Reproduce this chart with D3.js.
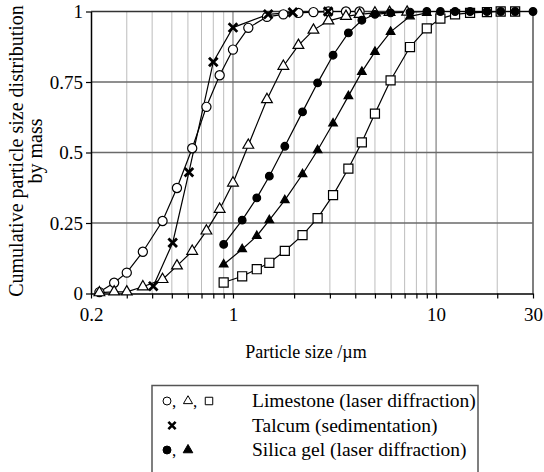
<!DOCTYPE html>
<html>
<head>
<meta charset="utf-8">
<script src="https://cdn.jsdelivr.net/npm/d3@7"></script>
<style>
  body { margin: 0; background: #fff; }
  svg { display: block; }
  text { font-family: "Liberation Serif", "Times New Roman", Times, serif; fill: #000; }
</style>
</head>
<body>
<div id="chart"></div>
<script>
// limestone, laser diffraction (three samples share one size grid)
const limeX = [0.22, 0.26, 0.30, 0.36, 0.45, 0.53, 0.63, 0.74, 0.86, 1.0, 1.19, 1.47, 1.77, 2.1, 2.49, 2.95, 3.6, 4.2, 5.0, 5.9, 7.2];
const limeCircleY = [0.005, 0.038, 0.074, 0.148, 0.257, 0.374, 0.515, 0.662, 0.774, 0.865, 0.942, 0.981, 0.99, 0.995, 0.998, 1, 1, 1];
const limeTriangleY = [0.003, 0.006, 0.006, 0.024, 0.05, 0.098, 0.15, 0.222, 0.299, 0.392, 0.526, 0.688, 0.806, 0.88, 0.934, 0.967, 0.983, 0.99, 0.995, 0.997, 0.998];

// coarser laser diffraction grid
const gridX = [0.90, 1.11, 1.31, 1.51, 1.80, 2.20, 2.61, 3.11, 3.70, 4.31, 5.0, 5.97, 7.44, 9.0, 10.5, 12.4, 14.7, 17.8, 20.8, 24.5, 30];
const limeSquareY = [0.039, 0.061, 0.086, 0.109, 0.151, 0.207, 0.267, 0.349, 0.443, 0.536, 0.638, 0.756, 0.874, 0.94, 0.975, 0.99, 0.995, 0.998, 1, 1];
const silicaCircleY = [0.174, 0.26, 0.339, 0.416, 0.522, 0.644, 0.747, 0.845, 0.924, 0.969, 0.99, 0.995, 0.998, 1, 1, 1, 1, 1, 1, 1, 1];
const silicaTriangleY = [0.103, 0.157, 0.204, 0.26, 0.331, 0.423, 0.508, 0.603, 0.70, 0.786, 0.857, 0.928, 0.983, 0.995];

// talcum, sedimentation
const talcumX = [0.405, 0.505, 0.607, 0.80, 1.0, 1.49, 1.97, 2.94];
const talcumY = [0.026, 0.18, 0.43, 0.821, 0.943, 0.99, 0.997, 1];

const xTickLabels = [0.2, 1, 10, 30];
const xMinor = [0.3, 0.4, 0.5, 0.6, 0.7, 0.8, 0.9, 2, 3, 4, 5, 6, 7, 8, 9, 20];
const yTicks = [0, 0.25, 0.5, 0.75, 1];

const width = 544;
const height = 472;
const margin = { top: 11.5, right: 11, bottom: 178.5, left: 91 };
const serif = "'Liberation Serif', 'Times New Roman', Times, serif";

const svg = d3.select("#chart").append("svg")
  .attr("width", width)
  .attr("height", height);

const x = d3.scaleLog()
  .domain([0.2, 30])
  .range([margin.left, width - margin.right]);

const y = d3.scaleLinear()
  .domain([0, 1])
  .range([height - margin.bottom, margin.top]);

// grid
svg.append("g")
  .selectAll("line")
  .data(xMinor)
  .join("line")
  .attr("x1", d => x(d)).attr("x2", d => x(d))
  .attr("y1", y(0)).attr("y2", y(1))
  .attr("stroke", "#bdbdbd")
  .attr("stroke-width", 1);

svg.append("g")
  .selectAll("line")
  .data([1, 10])
  .join("line")
  .attr("x1", d => x(d)).attr("x2", d => x(d))
  .attr("y1", y(0)).attr("y2", y(1))
  .attr("stroke", "#8a8a8a")
  .attr("stroke-width", 1.3);

svg.append("line")
  .attr("x1", x(30)).attr("x2", x(30))
  .attr("y1", y(0)).attr("y2", y(1))
  .attr("stroke", "#555")
  .attr("stroke-width", 1.5);

svg.append("g")
  .selectAll("line")
  .data([0.25, 0.5, 0.75])
  .join("line")
  .attr("x1", x(0.2)).attr("x2", x(30))
  .attr("y1", d => y(d)).attr("y2", d => y(d))
  .attr("stroke", "#6a6a6a")
  .attr("stroke-width", 1.3);

svg.append("line")
  .attr("x1", x(0.2)).attr("x2", x(30))
  .attr("y1", y(1)).attr("y2", y(1))
  .attr("stroke", "#333")
  .attr("stroke-width", 1.5);

// axes
const xAxis = svg.append("g")
  .attr("transform", `translate(0,${y(0)})`)
  .call(d3.axisBottom(x)
    .tickValues(xTickLabels.concat(xMinor).sort((a, b) => a - b))
    .tickFormat(d => xTickLabels.includes(d) ? String(d) : "")
    .tickSize(5)
    .tickSizeOuter(0)
    .tickPadding(9));

const yAxis = svg.append("g")
  .attr("transform", `translate(${x(0.2)},0)`)
  .call(d3.axisLeft(y)
    .tickValues(yTicks)
    .tickFormat(d => String(d))
    .tickSize(5)
    .tickSizeOuter(0)
    .tickPadding(3));

[xAxis, yAxis].forEach(g => {
  g.attr("font-family", null);
  g.select(".domain").attr("stroke", "#000").attr("stroke-width", 1.5);
  g.selectAll(".tick line").attr("stroke", "#000").attr("stroke-width", 1.2);
  g.selectAll(".tick text")
    .style("font-family", serif)
    .style("font-size", "19px")
    .attr("fill", "#000");
});

// axis titles
svg.append("text")
  .attr("x", 306)
  .attr("y", 358)
  .attr("text-anchor", "middle")
  .style("font-family", serif)
  .style("font-size", "18px")
  .text("Particle size /\u00b5m");

svg.append("text")
  .attr("transform", "translate(23,151) rotate(-90)")
  .attr("text-anchor", "middle")
  .style("font-family", serif)
  .style("font-size", "20px")
  .text("Cumulative particle size distribution");

svg.append("text")
  .attr("transform", "translate(42,151) rotate(-90)")
  .attr("text-anchor", "middle")
  .style("font-family", serif)
  .style("font-size", "20px")
  .text("by mass");

// series
const zip = (xs, ys) => ys.map((v, i) => [xs[i], v]);

const series = [
  { pts: zip(limeX, limeCircleY), shape: d3.symbolCircle, size: 66, fill: "#fff" },
  { pts: zip(limeX, limeTriangleY), shape: d3.symbolTriangle, size: 50, fill: "#fff" },
  { pts: zip(gridX, limeSquareY), shape: d3.symbolSquare, size: 82, fill: "#fff" },
  { pts: zip(talcumX, talcumY), shape: d3.symbolTimes, size: 50, fill: "none", sw: 2.8 },
  { pts: zip(gridX, silicaTriangleY), shape: d3.symbolTriangle, size: 32, fill: "#000" },
  { pts: zip(gridX, silicaCircleY), shape: d3.symbolCircle, size: 46, fill: "#000" }
];

const line = d3.line()
  .x(d => x(d[0]))
  .y(d => y(d[1]));

svg.append("g")
  .selectAll("path")
  .data(series)
  .join("path")
  .attr("fill", "none")
  .attr("stroke", "#000")
  .attr("stroke-width", 1.2)
  .attr("d", d => line(d.pts));

series.forEach(s => {
  svg.append("g")
    .selectAll("path")
    .data(s.pts)
    .join("path")
    .attr("transform", d => `translate(${x(d[0])},${y(d[1])})`)
    .attr("d", d3.symbol().type(s.shape).size(s.size))
    .attr("fill", s.fill)
    .attr("stroke", "#000")
    .attr("stroke-width", s.sw || 1.2);
});

// legend
const legend = svg.append("g");

legend.append("rect")
  .attr("x", 152)
  .attr("y", 385.5)
  .attr("width", 326)
  .attr("height", 110)
  .attr("fill", "none")
  .attr("stroke", "#555")
  .attr("stroke-width", 1.5);

const legendRows = [
  { label: "Limestone (laser diffraction)", marks: [
    { shape: d3.symbolCircle, size: 50, fill: "#fff" },
    { shape: d3.symbolTriangle, size: 36, fill: "#fff" },
    { shape: d3.symbolSquare, size: 56, fill: "#fff" }] },
  { label: "Talcum (sedimentation)", marks: [
    { shape: d3.symbolTimes, size: 36, fill: "none", sw: 2.6 }] },
  { label: "Silica gel (laser diffraction)", marks: [
    { shape: d3.symbolCircle, size: 50, fill: "#000" },
    { shape: d3.symbolTriangle, size: 40, fill: "#000" }] }
];

legendRows.forEach((row, i) => {
  const cy = 401 + i * 24.5;
  const step = 21;
  const x0 = row.marks.length === 1 ? 172 : 167;
  row.marks.forEach((m, j) => {
    legend.append("path")
      .attr("transform", `translate(${x0 + j * step},${cy})`)
      .attr("d", d3.symbol().type(m.shape).size(m.size))
      .attr("fill", m.fill)
      .attr("stroke", "#000")
      .attr("stroke-width", m.sw || 1);
    if (j < row.marks.length - 1) {
      legend.append("text")
        .attr("x", x0 + j * step + 5)
        .attr("y", cy + 6)
        .style("font-family", serif)
        .style("font-size", "17px")
        .text(",");
    }
  });
  legend.append("text")
    .attr("x", 252)
    .attr("y", cy + 6)
    .style("font-family", serif)
    .style("font-size", "19.5px")
    .text(row.label);
});
</script>
</body>
</html>
